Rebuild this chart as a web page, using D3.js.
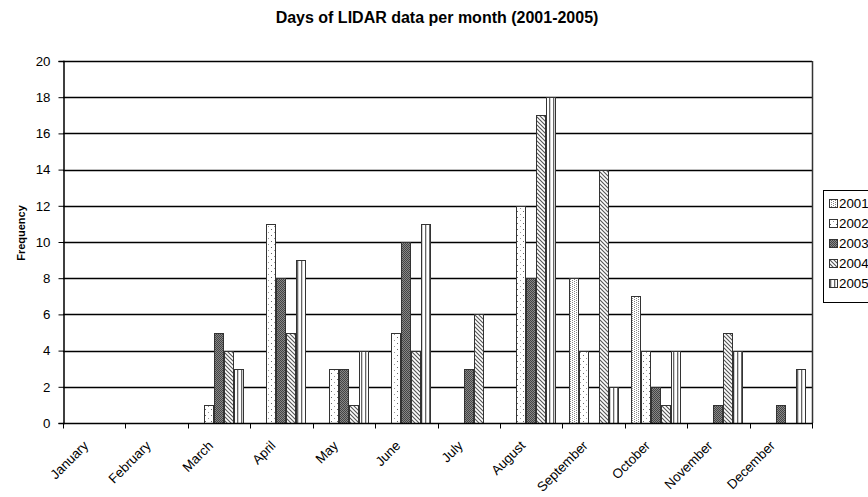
<!DOCTYPE html>
<html>
<head>
<meta charset="utf-8">
<script src="https://cdn.jsdelivr.net/npm/d3@7"></script>
<style>
  html, body { margin: 0; padding: 0; background: #fff; }
  svg { display: block; font-family: "Liberation Sans", Arial, sans-serif; }
</style>
</head>
<body>
<svg id="chart" width="868" height="497"></svg>
<script>
// Days of LIDAR data recorded per month, one series per year
const months = ["January", "February", "March", "April", "May", "June",
                "July", "August", "September", "October", "November", "December"];
const years = ["2001", "2002", "2003", "2004", "2005"];
const days2001 = [0, 0, 0, 0, 0, 0, 0, 0, 8, 7, 0, 0];
const days2002 = [0, 0, 1, 11, 3, 5, 0, 12, 4, 4, 0, 0];
const days2003 = [0, 0, 5, 8, 3, 10, 3, 8, 0, 2, 1, 1];
const days2004 = [0, 0, 4, 5, 1, 4, 6, 17, 14, 1, 5, 0];
const days2005 = [0, 0, 3, 9, 4, 11, 0, 18, 2, 4, 4, 3];
const yTicks = [0, 2, 4, 6, 8, 10, 12, 14, 16, 18, 20];

const seriesValues = [days2001, days2002, days2003, days2004, days2005];

const FONT = "'Liberation Sans', Arial, sans-serif";
const svg = d3.select("#chart");
const margin = { left: 63, right: 812, top: 61, bottom: 423 };

// Fill patterns for each year
const defs = svg.append("defs");

// 2001: light zigzag texture
const p1 = defs.append("pattern").attr("id", "pat2001")
  .attr("patternUnits", "userSpaceOnUse").attr("width", 4).attr("height", 4);
p1.append("rect").attr("width", 4).attr("height", 4).attr("fill", "#fff");
p1.append("path").attr("d", "M0,1 L1,0 M2,1 L3,2 M0,3 L1,2 M2,3 L3,4")
  .attr("stroke", "#777").attr("stroke-width", 0.9).attr("fill", "none");

// 2002: sparse dots
const p2 = defs.append("pattern").attr("id", "pat2002")
  .attr("patternUnits", "userSpaceOnUse").attr("width", 6).attr("height", 6);
p2.append("rect").attr("width", 6).attr("height", 6).attr("fill", "#fff");
p2.append("rect").attr("x", 1).attr("y", 1).attr("width", 1).attr("height", 1).attr("fill", "#666");
p2.append("rect").attr("x", 4).attr("y", 4).attr("width", 1).attr("height", 1).attr("fill", "#999");

// 2003: dark checker
const p3 = defs.append("pattern").attr("id", "pat2003")
  .attr("patternUnits", "userSpaceOnUse").attr("width", 2).attr("height", 2);
p3.append("rect").attr("width", 2).attr("height", 2).attr("fill", "#888");
p3.append("rect").attr("width", 1).attr("height", 1).attr("fill", "#444");
p3.append("rect").attr("x", 1).attr("y", 1).attr("width", 1).attr("height", 1).attr("fill", "#444");

// 2004: downward diagonal stripes
const p4 = defs.append("pattern").attr("id", "pat2004")
  .attr("patternUnits", "userSpaceOnUse").attr("width", 4).attr("height", 4);
p4.append("rect").attr("width", 4).attr("height", 4).attr("fill", "#fff");
p4.append("path").attr("d", "M-1,-1 L5,5 M-1,3 L1,5 M3,-1 L5,1")
  .attr("stroke", "#555").attr("stroke-width", 1.1);

// 2005: vertical stripes
const p5 = defs.append("pattern").attr("id", "pat2005")
  .attr("patternUnits", "userSpaceOnUse").attr("width", 4).attr("height", 4);
p5.append("rect").attr("width", 4).attr("height", 4).attr("fill", "#fff");
p5.append("rect").attr("x", 1).attr("width", 1.3).attr("height", 4).attr("fill", "#666");

const fills = years.map(y => `url(#pat${y})`);

// Scales
const x = d3.scaleBand().domain(months).range([margin.left, margin.right])
  .paddingInner(0).paddingOuter(0);
const xSub = d3.scaleBand().domain(years).range([0, x.bandwidth()])
  .paddingInner(0).paddingOuter(0.625);
const y = d3.scaleLinear().domain([0, 20]).range([margin.bottom, margin.top]);

// Title
svg.append("text")
  .attr("x", 437).attr("y", 23)
  .attr("text-anchor", "middle")
  .attr("font-family", FONT)
  .attr("font-size", 16).attr("font-weight", "bold")
  .text("Days of LIDAR data per month (2001-2005)");

// Horizontal gridlines
svg.append("g").selectAll("line").data(yTicks.slice(1)).join("line")
  .attr("x1", margin.left).attr("x2", margin.right)
  .attr("y1", d => Math.round(y(d)) + 0.5).attr("y2", d => Math.round(y(d)) + 0.5)
  .attr("stroke", "#000").attr("stroke-width", 1.6);

// Plot area right edge
svg.append("line")
  .attr("x1", margin.right + 0.5).attr("x2", margin.right + 0.5)
  .attr("y1", margin.top).attr("y2", margin.bottom)
  .attr("stroke", "#333").attr("stroke-width", 1.5);

// Bars
const groups = svg.append("g").selectAll("g").data(years).join("g")
  .attr("fill", (d, i) => fills[i]);
groups.selectAll("rect")
  .data((yr, i) => months.map((m, j) => ({ m, yr, v: seriesValues[i][j] })).filter(d => d.v > 0))
  .join("rect")
  .attr("x", d => Math.round(x(d.m) + xSub(d.yr)) + 0.5)
  .attr("y", d => Math.round(y(d.v)) + 0.5)
  .attr("width", Math.round(xSub.bandwidth()) - 1)
  .attr("height", d => Math.round(y(0)) - Math.round(y(d.v)))
  .attr("stroke", "#333").attr("stroke-width", 1);

// Y axis
const yAxis = d3.axisLeft(y).tickValues(yTicks).tickSize(5).tickPadding(8)
  .tickFormat(d3.format("d"));
const yG = svg.append("g").attr("transform", `translate(${margin.left + 0.5},0)`).call(yAxis);
yG.select(".domain").attr("stroke", "#000").attr("stroke-width", 1.5);
yG.selectAll(".tick line").attr("stroke", "#000");
yG.selectAll(".tick text").attr("font-size", 13.3).attr("font-family", FONT).attr("fill", "#000");

// X axis: ticks at category boundaries
const xG = svg.append("g").attr("transform", `translate(0,${margin.bottom + 0.5})`);
xG.append("line").attr("x1", margin.left).attr("x2", margin.right + 1)
  .attr("stroke", "#000").attr("stroke-width", 1.5);
const bounds = months.map(m => x(m)).concat([margin.right]);
xG.selectAll("line.tick").data(bounds).join("line").attr("class", "tick")
  .attr("x1", d => Math.round(d) + 0.5).attr("x2", d => Math.round(d) + 0.5)
  .attr("y1", 0).attr("y2", 5).attr("stroke", "#000");
xG.selectAll("text").data(months).join("text")
  .attr("transform", d => `translate(${x(d) + x.bandwidth() / 2 - 5},${23}) rotate(-45)`)
  .attr("text-anchor", "end")
  .attr("font-family", FONT)
  .attr("font-size", 13.3)
  .text(d => d);

// Y axis title
svg.append("text")
  .attr("transform", "translate(25,233) rotate(-90)")
  .attr("text-anchor", "middle")
  .attr("font-family", FONT)
  .attr("font-size", 11).attr("font-weight", "bold")
  .text("Frequency");

// Legend
const lg = svg.append("g").attr("transform", "translate(823,190)");
lg.append("rect").attr("x", 0.5).attr("y", 0.5).attr("width", 60).attr("height", 112)
  .attr("fill", "#fff").attr("stroke", "#000");
years.forEach((yr, i) => {
  const row = lg.append("g").attr("transform", `translate(6,${13 + i * 20})`);
  row.append("rect").attr("x", 0.5).attr("y", -3.5).attr("width", 8).attr("height", 8)
    .attr("fill", fills[i]).attr("stroke", "#333");
  row.append("text").attr("x", 10).attr("y", 5)
    .attr("font-family", FONT).attr("font-size", 13.3).text(yr);
});
</script>
</body>
</html>
